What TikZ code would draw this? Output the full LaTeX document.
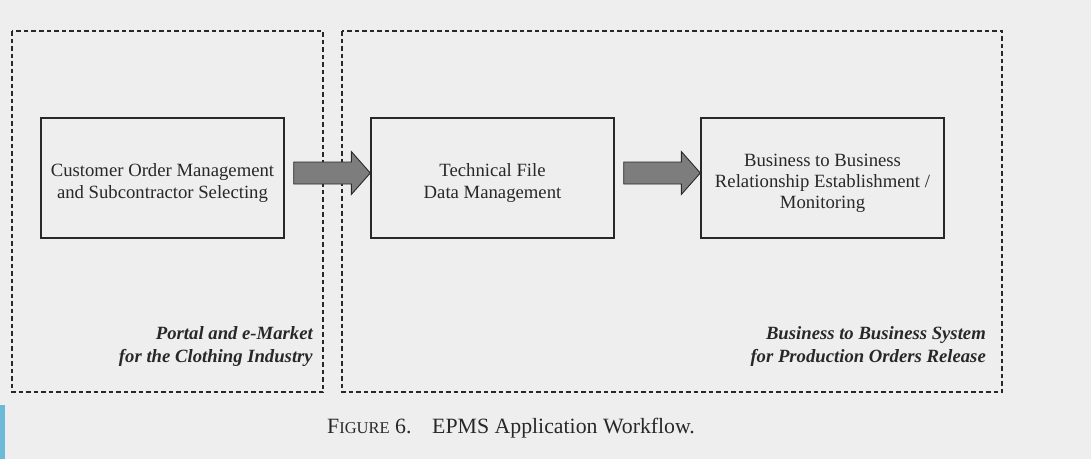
\documentclass[tikz,border=0pt]{standalone}
\usepackage{fontspec}
\setmainfont{Liberation Serif}
\usetikzlibrary{calc}
\definecolor{paper}{RGB}{238,238,238}
\definecolor{ink}{RGB}{40,40,40}
\definecolor{arrowgray}{RGB}{125,125,125}
\definecolor{tabblue}{RGB}{108,186,216}
\tikzset{
  region/.style={draw=ink, line width=1.2pt, dash pattern=on 4.5pt off 3pt},
  stage/.style={draw=ink, line width=1.4pt, minimum width=243pt, minimum height=120pt,
    align=center, text=ink, font=\fontsize{18.7}{21.2}\selectfont, inner sep=0pt},
  regionlabel/.style={align=right, text=ink, font=\fontsize{18.7}{23.5}\selectfont\bfseries\itshape,
    anchor=south east, inner sep=0pt},
  fatarrow/.style={draw=ink, line width=0.9pt, fill=arrowgray, line join=miter}
}
% a taller first line sets the text block a little below the box centre
\newcommand{\lowerstrut}{\rule{0pt}{23pt}}
\newcommand{\fatarrow}[2]{%
  \draw[fatarrow]
    ($(#1.east)+(9,-5)+(0,-11)$) -- ($(#2.west)+(-19,-5)+(0,-11)$) --
    ($(#2.west)+(-19,-5)+(0,-21.5)$) -- ($(#2.west)+(0,-5)$) --
    ($(#2.west)+(-19,-5)+(0,21.5)$) -- ($(#2.west)+(-19,-5)+(0,11)$) --
    ($(#1.east)+(9,-5)+(0,11)$) -- cycle;}
\begin{document}
\begin{tikzpicture}[x=1pt, y=-1pt]
  % page
  \useasboundingbox (0,0) rectangle (1091,459);
  \fill[paper] (0,0) rectangle (1091,459);
  \fill[tabblue] (0,405) rectangle (5,459);

  % the two system regions
  \draw[region] (12,31) rectangle (323,392);
  \draw[region] (342,31) rectangle (1002,392);

  % workflow stages
  \node[stage] (b1) at (162.5,178) {\lowerstrut Customer Order Management\\and Subcontractor Selecting};
  \node[stage] (b2) at (492.5,178) {\lowerstrut Technical File\\Data Management};
  \node[stage] (b3) at (822.5,178) {\lowerstrut Business to Business\\Relationship Establishment /\\Monitoring};

  % flow between stages
  \fatarrow{b1}{b2}
  \fatarrow{b2}{b3}

  % region captions
  \node[regionlabel] (l1) at (313,367) {Portal and e-Market\\for the Clothing Industry};
  \node[regionlabel] (l2) at (986,367) {Business to Business System\\for Production Orders Release};

  % figure caption
  \node[anchor=base west, inner sep=0pt, text=ink, font=\fontsize{21.8}{24}\selectfont] (cap) at (327,433)
    {F{\fontsize{16.5}{20}\selectfont IGURE} 6.\hspace{0.95em}EPMS Application Workflow.};
\end{tikzpicture}
\end{document}
